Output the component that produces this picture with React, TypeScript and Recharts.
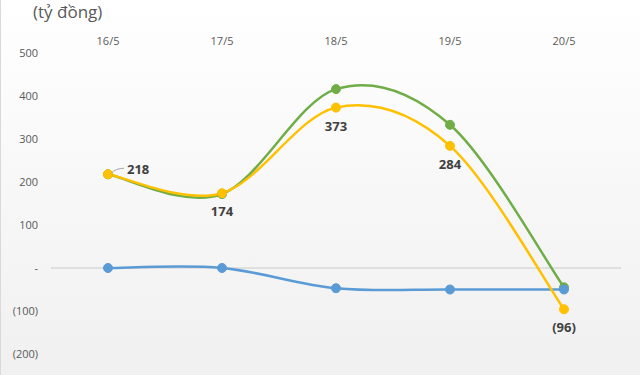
import React from 'react';
import { LineChart, Line, XAxis, YAxis, ReferenceLine, LabelList } from 'recharts';

const dates = ['16/5', '17/5', '18/5', '19/5', '20/5'];
const yellowValues = [218, 174, 373, 284, -96];
const greenValues = [218, 172, 416, 333, -45];
const blueValues = [0, 0, -47, -50, -50];
const yTicks = [-200, -100, 0, 100, 200, 300, 400, 500];

const data = dates.map((d, i) => ({
  date: d,
  yellow: yellowValues[i],
  green: greenValues[i],
  blue: blueValues[i],
}));

// Excel-style smoothed line (Catmull-Rom as bezier)
const smoothCurve = (context: any) => {
  let pts: number[][] = [];
  return {
    areaStart() {},
    areaEnd() {},
    lineStart() {
      pts = [];
    },
    lineEnd() {
      const n = pts.length;
      if (!n) return;
      context.moveTo(pts[0][0], pts[0][1]);
      for (let i = 0; i < n - 1; i++) {
        const p0 = pts[Math.max(i - 1, 0)];
        const p1 = pts[i];
        const p2 = pts[i + 1];
        const p3 = pts[Math.min(i + 2, n - 1)];
        context.bezierCurveTo(
          p1[0] + (p2[0] - p0[0]) / 6,
          p1[1] + (p2[1] - p0[1]) / 6,
          p2[0] - (p3[0] - p1[0]) / 6,
          p2[1] - (p3[1] - p1[1]) / 6,
          p2[0],
          p2[1]
        );
      }
    },
    point(x: number, y: number) {
      pts.push([+x, +y]);
    },
  };
};

const fmt = (v: number) => (v === 0 ? '-' : v < 0 ? `(${Math.abs(v)})` : `${v}`);

const YellowLabel = (props: any) => {
  const { x, y, value, index } = props;
  const style = { fontSize: 13, fontWeight: 700, fill: '#404040' };
  if (index === 0) {
    return (
      <g>
        <path d={`M${x + 3},${y - 1} Q${x + 8},${y - 6} ${x + 16},${y - 6}`} stroke="#a6a6a6" fill="none" strokeWidth={1} />
        <text x={x + 19} y={y} dy={0} style={style}>
          {fmt(value)}
        </text>
      </g>
    );
  }
  return (
    <text x={x} y={y + 23} textAnchor="middle" style={style}>
      {fmt(value)}
    </text>
  );
};

export default function App() {
  return (
    <div
      style={{
        position: 'absolute',
        left: 0,
        top: 0,
        width: 640,
        height: 375,
        background: 'linear-gradient(#ffffff, #f0f0f0)',
        borderLeft: '1px solid #d9d9d9',
        boxSizing: 'border-box',
        fontFamily: '"Open Sans", sans-serif',
      }}
    >
      <div style={{ position: 'absolute', left: 32, top: 0, fontSize: 17, color: '#595959' }}>(tỷ đồng)</div>
      <LineChart width={640} height={375} data={data} margin={{ top: 23, right: 20, bottom: 21, left: 0 }}>
        <XAxis
          dataKey="date"
          orientation="top"
          axisLine={false}
          tickLine={false}
          height={30}
          padding={{ left: 57, right: 57 }}
          tick={{ fontSize: 11, fill: '#595959' }}
        />
        <YAxis
          domain={[-200, 500]}
          ticks={yTicks}
          tickFormatter={fmt}
          axisLine={false}
          tickLine={false}
          width={50}
          tickMargin={7}
          tick={{ fontSize: 11, fill: '#595959' }}
        />
        <ReferenceLine y={0} stroke="#d9d9d9" strokeWidth={1.5} />
        <Line
          dataKey="green"
          type={smoothCurve as any}
          stroke="#70AD47"
          strokeWidth={2.5}
          dot={{ r: 4.5, fill: '#70AD47', stroke: '#70AD47', strokeWidth: 1 }}
          isAnimationActive={false}
        />
        <Line
          dataKey="blue"
          type={smoothCurve as any}
          stroke="#5B9BD5"
          strokeWidth={2.5}
          dot={{ r: 4.5, fill: '#5B9BD5', stroke: '#5B9BD5', strokeWidth: 1 }}
          isAnimationActive={false}
        />
        <Line
          dataKey="yellow"
          type={smoothCurve as any}
          stroke="#FFC000"
          strokeWidth={2.5}
          dot={{ r: 4.5, fill: '#FFC000', stroke: '#FFC000', strokeWidth: 1 }}
          isAnimationActive={false}
        >
          <LabelList dataKey="yellow" content={<YellowLabel />} />
        </Line>
      </LineChart>
    </div>
  );
}
